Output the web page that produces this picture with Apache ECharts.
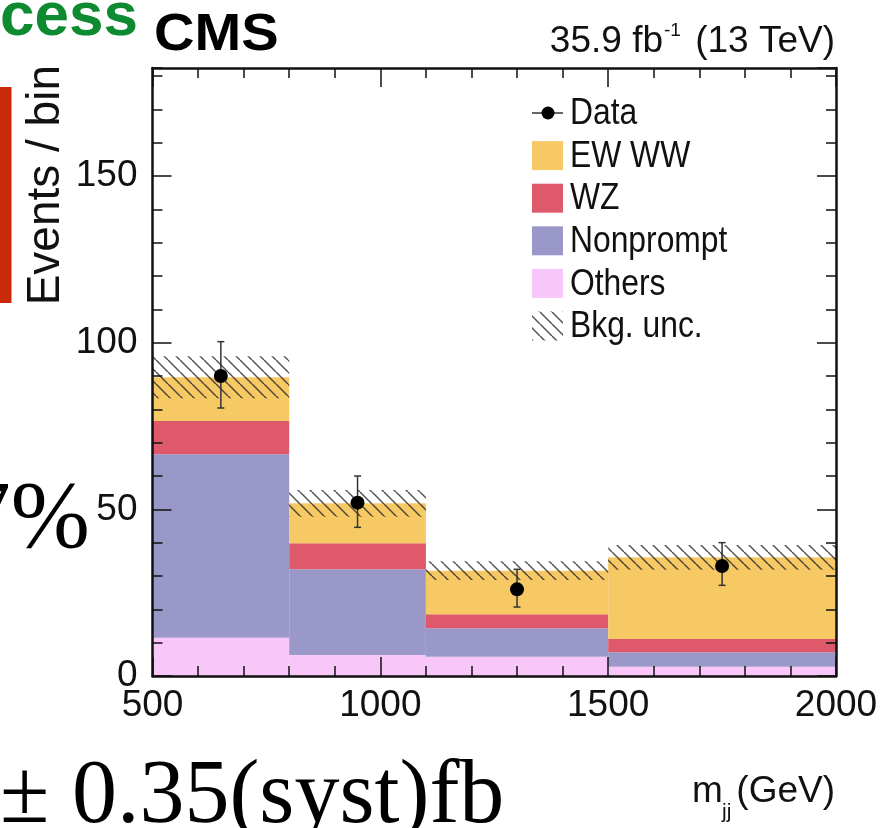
<!DOCTYPE html>
<html>
<head>
<meta charset="utf-8">
<script src="https://cdn.jsdelivr.net/npm/echarts@6/dist/echarts.min.js"></script>
<style>
  html, body { margin: 0; padding: 0; background: #ffffff; }
  #chart { width: 881px; height: 828px; }
</style>
</head>
<body>
<div id="chart"></div>
<script>
// m_jj bins (GeV)
const binEdges = [500, 800, 1100, 1500, 2000];
// Stacked yields per bin, bottom to top
const othersYield    = [11.5, 6.3, 5.8, 2.8];
const nonpromptYield = [55.0, 25.7, 8.5, 4.3];
const wzYield        = [10.0, 7.8, 4.2, 4.0];
const ewwwYield      = [13.1, 12.0, 13.1, 24.5];
// Background uncertainty (half-width of band around the total)
const bkgUnc = [6.3, 4.0, 2.8, 3.7];
// Observed data
const dataMjj     = [650, 950, 1300, 1750];
const dataEvents  = [90, 52, 26, 33];
const dataErrUp   = [10.3, 8.0, 6.0, 7.0];
const dataErrDown = [9.6, 7.4, 5.3, 5.8];
// Axis labels
const xTickLabels = [500, 1000, 1500, 2000];
const yTickLabels = [0, 50, 100, 150];
const legendLabels = ['Data', 'EW WW', 'WZ', 'Nonprompt', 'Others', 'Bkg. unc.'];

const SANS = '"Liberation Sans", Arial, Helvetica, sans-serif';
const SERIF = '"Liberation Serif", "DejaVu Serif", serif';
const colors = { others: '#f8c6f8', nonprompt: '#9a98c8', wz: '#de5a6a', ewww: '#f6c964' };

// diagonal hatch pattern for the uncertainty band
function makeHatch() {
  const c = document.createElement('canvas');
  const s = 12;
  c.width = s; c.height = s;
  const ctx = c.getContext('2d');
  ctx.strokeStyle = 'rgba(40,40,40,0.8)';
  ctx.lineWidth = 1.5;
  for (const k of [-s, 0, s]) {
    ctx.beginPath();
    ctx.moveTo(k, 0);
    ctx.lineTo(k + s, s);
    ctx.stroke();
  }
  return { image: c, repeat: 'repeat' };
}
const hatch = makeHatch();

function renderBin(params, api) {
  const tl = api.coord([api.value(0), api.value(3)]);
  const br = api.coord([api.value(1), api.value(2)]);
  return {
    type: 'rect',
    shape: { x: tl[0], y: tl[1], width: br[0] - tl[0], height: br[1] - tl[1] },
    style: api.style()
  };
}

function renderHatch(params, api) {
  const tl = api.coord([api.value(0), api.value(3)]);
  const br = api.coord([api.value(1), api.value(2)]);
  return {
    type: 'rect',
    shape: { x: tl[0], y: tl[1], width: br[0] - tl[0], height: br[1] - tl[1] },
    style: { fill: hatch }
  };
}

function renderErr(params, api) {
  const x = api.value(0);
  const hi = api.coord([x, api.value(2)]);
  const lo = api.coord([x, api.value(1)]);
  const cap = 3.5;
  const st = { stroke: '#333', lineWidth: 1.5 };
  return {
    type: 'group',
    children: [
      { type: 'line', shape: { x1: hi[0], y1: hi[1], x2: lo[0], y2: lo[1] }, style: st },
      { type: 'line', shape: { x1: hi[0] - cap, y1: hi[1], x2: hi[0] + cap, y2: hi[1] }, style: st },
      { type: 'line', shape: { x1: lo[0] - cap, y1: lo[1], x2: lo[0] + cap, y2: lo[1] }, style: st }
    ]
  };
}

// Build the stacked histogram
const stackDefs = [
  { name: 'Others', values: othersYield, color: colors.others },
  { name: 'Nonprompt', values: nonpromptYield, color: colors.nonprompt },
  { name: 'WZ', values: wzYield, color: colors.wz },
  { name: 'EW WW', values: ewwwYield, color: colors.ewww }
];
const running = othersYield.map(() => 0);
const stackSeries = stackDefs.map(def => ({
  type: 'custom',
  name: def.name,
  renderItem: renderBin,
  itemStyle: { color: def.color },
  encode: { x: [0, 1], y: [2, 3] },
  z: 2,
  silent: true,
  data: def.values.map((v, i) => {
    const lo = running[i];
    running[i] = lo + v;
    return [binEdges[i], binEdges[i + 1], lo, running[i]];
  })
}));
const totals = running.slice();

const hatchSeries = {
  type: 'custom',
  name: 'Bkg. unc.',
  renderItem: renderHatch,
  encode: { x: [0, 1], y: [2, 3] },
  z: 3,
  silent: true,
  data: totals.map((t, i) => [binEdges[i], binEdges[i + 1], t - bkgUnc[i], t + bkgUnc[i]])
};

const errSeries = {
  type: 'custom',
  name: 'Data unc.',
  renderItem: renderErr,
  encode: { x: 0, y: [1, 2] },
  z: 4,
  silent: true,
  data: dataMjj.map((x, i) => [x, dataEvents[i] - dataErrDown[i], dataEvents[i] + dataErrUp[i]])
};

const dataSeries = {
  type: 'scatter',
  name: 'Data',
  symbol: 'circle',
  symbolSize: 14,
  itemStyle: { color: '#000', opacity: 1 },
  z: 5,
  silent: true,
  data: dataMjj.map((x, i) => [x, dataEvents[i]])
};

const frameLine = { show: true, onZero: false, lineStyle: { color: '#111', width: 2.5 } };
const tickStyle = { color: '#111', width: 1.5 };
const yMax = 182.4;

function xAxisDef(position, showLabels) {
  return {
    type: 'value', position, min: 500, max: 2000, interval: 500, z: 10,
    axisLine: frameLine,
    axisTick: { show: true, inside: true, length: 19, lineStyle: tickStyle },
    minorTick: { show: true, splitNumber: 5, length: 10, lineStyle: tickStyle },
    splitLine: { show: false }, minorSplitLine: { show: false },
    axisLabel: {
      show: showLabels, margin: 11, color: '#111', fontFamily: SANS, fontSize: 37,
      formatter: v => (xTickLabels.includes(v) ? String(v) : '')
    }
  };
}
function yAxisDef(position, major, showLabels) {
  return {
    type: 'value', position, min: 0, max: yMax, interval: major ? 50 : 10, z: 10,
    axisLine: major ? frameLine : { show: false },
    axisTick: { show: true, inside: true, length: major ? 19 : 10, lineStyle: tickStyle },
    splitLine: { show: false },
    axisLabel: {
      show: showLabels, margin: 15, color: '#111', fontFamily: SANS, fontSize: 37,
      showMaxLabel: false,
      formatter: v => (yTickLabels.includes(v) ? String(v) : '')
    }
  };
}

// Legend block and surrounding annotation text
const legendX = 532, legendTextX = 570, legendY0 = 113, legendStep = 42.6;
const legendFills = [null, colors.ewww, colors.wz, colors.nonprompt, colors.others, hatch];
const legendGraphics = [];
legendLabels.forEach((label, i) => {
  const cy = legendY0 + i * legendStep;
  if (i === 0) {
    legendGraphics.push({ type: 'line', shape: { x1: legendX, y1: cy, x2: legendX + 31, y2: cy }, style: { stroke: '#333', lineWidth: 1.5 } });
    legendGraphics.push({ type: 'circle', shape: { cx: legendX + 16, cy: cy, r: 6.5 }, style: { fill: '#000' } });
  } else {
    legendGraphics.push({ type: 'rect', shape: { x: legendX, y: cy - 14.5, width: 31, height: 29 }, style: { fill: legendFills[i] } });
  }
  legendGraphics.push({ type: 'text', x: legendTextX, y: cy + 1, scaleX: 0.86, style: { text: label, font: '37px ' + SANS, fill: '#111', align: 'left', verticalAlign: 'middle' } });
});

const textGraphics = [
  { type: 'text', x: 0, y: 18, style: { text: 'cess', font: 'bold 62px ' + SANS, fill: '#0e8a30', align: 'left', verticalAlign: 'middle' } },
  { type: 'rect', shape: { x: 0, y: 87, width: 11.5, height: 216 }, style: { fill: '#c92a0c' } },
  { type: 'text', x: 154, y: 36, scaleX: 1.1, style: { text: 'CMS', font: 'bold 51px ' + SANS, fill: '#000', align: 'left', verticalAlign: 'middle' } },
  { type: 'text', x: 663, y: 42, style: { text: '35.9 fb', font: '37px ' + SANS, fill: '#111', align: 'right', verticalAlign: 'middle' } },
  { type: 'text', x: 664, y: 31, style: { text: '-1', font: '19px ' + SANS, fill: '#111', align: 'left', verticalAlign: 'middle' } },
  { type: 'text', x: 835, y: 42, style: { text: '(13 TeV)', font: '37px ' + SANS, fill: '#111', align: 'right', verticalAlign: 'middle' } },
  { type: 'text', x: 46, y: 65, rotation: Math.PI / 2, style: { text: 'Events / bin', font: '46px ' + SANS, fill: '#111', align: 'right', verticalAlign: 'middle' } },
  { type: 'text', x: 90, y: 522, style: { text: '7%', font: '95px ' + SERIF, fill: '#000', align: 'right', verticalAlign: 'middle' } },
  { type: 'text', x: 0, y: 798, style: { text: '\u00b1 0.35(syst)fb', font: '90px ' + SERIF, fill: '#000', align: 'left', verticalAlign: 'middle' } },
  { type: 'text', x: 692, y: 792, style: { text: 'm', font: '37px ' + SANS, fill: '#111', align: 'left', verticalAlign: 'middle' } },
  { type: 'text', x: 722, y: 812, style: { text: 'jj', font: '21px ' + SANS, fill: '#111', align: 'left', verticalAlign: 'middle' } },
  { type: 'text', x: 835, y: 792, style: { text: '(GeV)', font: '37px ' + SANS, fill: '#111', align: 'right', verticalAlign: 'middle' } }
];

const chart = echarts.init(document.getElementById('chart'), null, { renderer: 'canvas' });
chart.setOption({
  backgroundColor: '#ffffff',
  animation: false,
  grid: { left: 152.5, right: 45, top: 68, bottom: 152, outerBoundsMode: 'none' },
  xAxis: [xAxisDef('bottom', true), xAxisDef('top', false)],
  yAxis: [yAxisDef('left', true, true), yAxisDef('left', false, false), yAxisDef('right', true, false), yAxisDef('right', false, false)],
  series: stackSeries.concat([hatchSeries, errSeries, dataSeries]),
  graphic: legendGraphics.concat(textGraphics)
});
</script>
</body>
</html>
